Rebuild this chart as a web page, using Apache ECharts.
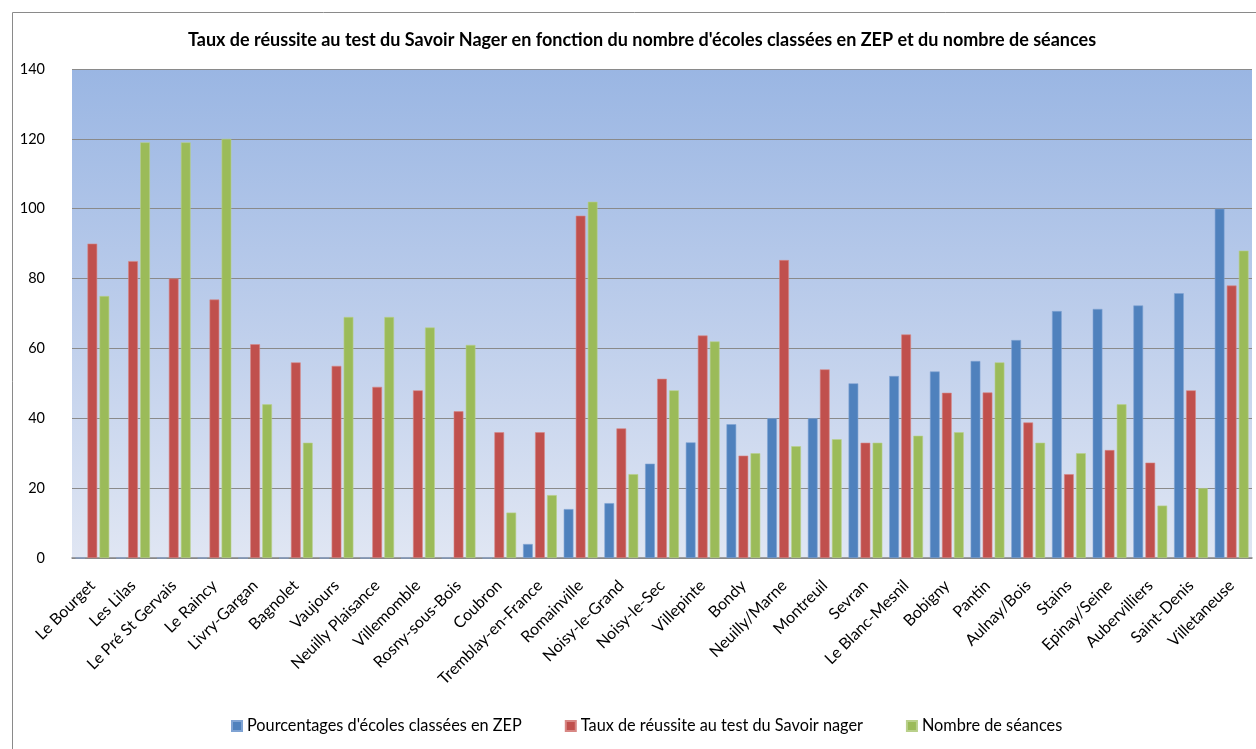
<!DOCTYPE html>
<html>
<head>
<meta charset="utf-8">
<script src="https://cdn.jsdelivr.net/npm/echarts@6/dist/echarts.min.js"></script>
<style>html,body{margin:0;padding:0;background:#fff}#c{width:1256px;height:749px}</style>
</head>
<body>
<div id="c"></div>
<script>
const categories = ["Le Bourget","Les Lilas","Le Pré St Gervais","Le Raincy","Livry-Gargan","Bagnolet","Vaujours","Neuilly Plaisance","Villemomble","Rosny-sous-Bois","Coubron","Tremblay-en-France","Romainville","Noisy-le-Grand","Noisy-le-Sec","Villepinte","Bondy","Neuilly/Marne","Montreuil","Sevran","Le Blanc-Mesnil","Bobigny","Pantin","Aulnay/Bois","Stains","Epinay/Seine","Aubervilliers","Saint-Denis","Villetaneuse"];
const zepPercent = [0,0,0,0,0,0,0,0,0,0,0,4,14,15.7,27,33.1,38.3,40,40,50,52.1,53.4,56.4,62.4,70.7,71.3,72.3,75.8,100];
const successRate = [90,85,80,74,61.2,56,55,49,48,42,36,36,98,37.1,51.3,63.7,29.3,85.3,54,33,64,47.3,47.4,38.8,24,30.9,27.3,48,78];
const sessions = [75,119,119,120,44,33,69,69,66,61,13,18,102,24,48,62,30,32,34,33,35,36,56,33,30,44,15,20,88];
const seriesNames = ["Pourcentages d'écoles classées en ZEP","Taux de réussite au test du Savoir nager","Nombre de séances"];
const yTicks = {min:0, max:140, interval:20};

const font = "Lato, 'Liberation Sans', sans-serif";
const chart = echarts.init(document.getElementById('c'));
const colors = ['#4F81BD','#C0504D','#9BBB59'];
const borders = ['#7FA3D3','#D88784','#B9D08A'];
function mk(i, data){
  return {name: seriesNames[i], type:'bar', data: data,
    barGap:'24%', barCategoryGap:'17%',
    itemStyle:{color:colors[i], borderColor:borders[i], borderWidth:0.6},
    emphasis:{disabled:true}};
}
chart.setOption({
  animation:false,
  color: colors,
  textStyle:{fontFamily:font},
  title:{text:"Taux de réussite au test du Savoir Nager en fonction du nombre d'écoles classées en ZEP et du nombre de séances",
    left:637, top:26, textAlign:'center',
    textStyle:{fontFamily:font, fontSize:18, fontWeight:'bold', color:'#000'}},
  legend:{bottom:10, left:226, itemWidth:10, itemHeight:10, itemGap:43, icon:'rect',
    textStyle:{fontFamily:font, fontSize:16.3, color:'#000'}},
  graphic:[{type:'rect', left:10, top:10, shape:{width:1400, height:900}, style:{fill:'none', stroke:'#8a8a8a', lineWidth:1}, silent:true, z:-1}],
  grid:{left:72, right:4, top:69, bottom:191, containLabel:false,
    show:true, borderWidth:0,
    backgroundColor:{type:'linear', x:0, y:0, x2:0, y2:1,
      colorStops:[{offset:0,color:'#9AB6E3'},{offset:0.5,color:'#BCCDEB'},{offset:1,color:'#E0E6F3'}]}},
  xAxis:{type:'category', data:categories,
    axisTick:{show:false},
    axisLine:{lineStyle:{color:'#868686', width:1.5}},
    axisLabel:{interval:0, rotate:45, fontFamily:font, fontSize:16, color:'#000', margin:25}},
  yAxis:{type:'value', min:yTicks.min, max:yTicks.max, interval:yTicks.interval,
    axisLine:{show:false}, axisTick:{show:false},
    axisLabel:{fontFamily:font, fontSize:14.5, color:'#000', margin:27},
    splitLine:{lineStyle:{color:'#8a8a8a', width:1}}},
  series:[mk(0,zepPercent), mk(1,successRate), mk(2,sessions)]
});
</script>
</body>
</html>
